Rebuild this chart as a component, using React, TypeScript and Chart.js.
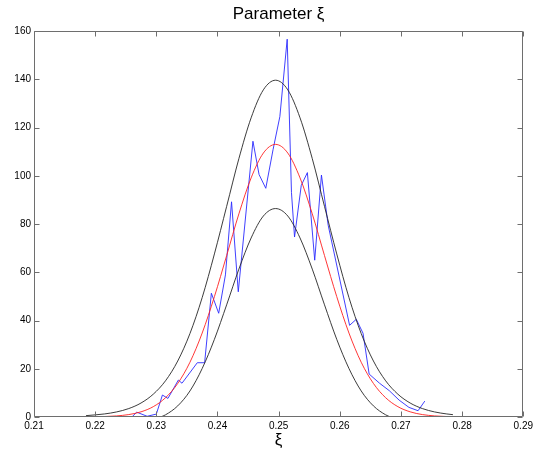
import React, { useEffect, useRef } from "react";
import { Chart, registerables } from "chart.js";

Chart.register(...registerables);

// ---- data ----
const xTicks = [0.21, 0.22, 0.23, 0.24, 0.25, 0.26, 0.27, 0.28, 0.29];
const xTickLabels = ["0.21", "0.22", "0.23", "0.24", "0.25", "0.26", "0.27", "0.28", "0.29"];
const yTicks = [0, 20, 40, 60, 80, 100, 120, 140, 160];
const yTickLabels = ["0", "20", "40", "60", "80", "100", "120", "140", "160"];

// empirical (blue) trace
const blueX = [0.2185, 0.226, 0.2268, 0.2285, 0.23, 0.231, 0.2319, 0.2336, 0.2342, 0.2367, 0.2379, 0.239, 0.2402, 0.2413, 0.2423, 0.2434, 0.2458, 0.2468, 0.2479, 0.2491, 0.2502, 0.2514, 0.2521, 0.2526, 0.2537, 0.2547, 0.2559, 0.257, 0.2581, 0.2616, 0.2627, 0.2638, 0.2648, 0.2665, 0.2681, 0.2697, 0.2713, 0.2728, 0.2739];
const blueY = [0, 0, 2, 0.3, 1.2, 9.1, 7.7, 15.3, 14.0, 22.5, 22.5, 51.3, 43, 58.9, 89.2, 51.9, 114.3, 100.5, 94.8, 111, 124.5, 156.6, 93, 74.6, 96, 101.3, 65, 100.3, 79.5, 38, 40.5, 34.7, 17.8, 14, 10.9, 7.0, 4.0, 2.6, 6.6];

// fitted curve (red) and upper envelope (black)
const curveX = [0.2185, 0.2215, 0.2235, 0.2255, 0.2275, 0.2295, 0.2315, 0.2335, 0.2355, 0.2375, 0.2395, 0.2415, 0.2435, 0.2455, 0.2475, 0.2495, 0.2515, 0.2535, 0.2555, 0.2575, 0.2595, 0.2615, 0.2635, 0.2655, 0.2675, 0.2695, 0.2715, 0.2735, 0.2755, 0.2775, 0.2785];
const redY = [0.04, 0.19, 0.45, 1.01, 2.15, 4.28, 7.98, 13.9, 22.7, 34.8, 49.9, 66.9, 84.2, 99.1, 109.4, 113, 109.4, 99.1, 84.2, 66.9, 49.9, 34.8, 22.7, 13.9, 7.98, 4.28, 2.15, 1.01, 0.45, 0.19, 0.12];
const upperY = [0.56, 1.26, 2.1, 3.5, 5.8, 9.45, 15.0, 23.2, 34.6, 49.5, 67.6, 87.3, 107.1, 124.0, 135.6, 139.6, 135.6, 124.0, 107.1, 87.3, 67.6, 49.5, 34.6, 23.2, 15.0, 9.45, 5.8, 3.5, 2.1, 1.26, 0.97];

// lower envelope (black)
const lowerX = [0.2307, 0.2315, 0.2335, 0.2355, 0.2375, 0.2395, 0.2415, 0.2435, 0.2455, 0.2475, 0.2495, 0.2515, 0.2535, 0.2555, 0.2575, 0.2595, 0.2615, 0.2635, 0.2655, 0.2675, 0.2683];
const lowerY = [0, 0.9, 4.6, 10.8, 20.1, 32.2, 46.5, 61.3, 74.2, 83.3, 86.4, 83.3, 74.2, 61.3, 46.5, 32.2, 20.1, 10.8, 4.6, 0.9, 0];

const FONT = "'Liberation Sans', Arial, Helvetica, sans-serif";

const pts = (xs: number[], ys: number[]) => xs.map((x, i) => ({ x, y: ys[i] }));

const framePlugin = {
  id: "matlabFrame",
  afterDraw(chart: any) {
    const { ctx, chartArea } = chart;
    const { left, right, top, bottom } = chartArea;
    const xs = chart.scales.x;
    const ys = chart.scales.y;
    const L = Math.round(left) + 0.5;
    const R = Math.round(right) - 0.5;
    const T = Math.round(top) + 0.5;
    const B = Math.round(bottom) - 0.5;
    const tl = 5;
    ctx.save();
    ctx.strokeStyle = "#6e6e6e";
    ctx.lineWidth = 1;
    ctx.beginPath();
    ctx.rect(L, T, R - L, B - T);
    for (const v of xTicks) {
      const p = Math.round(xs.getPixelForValue(v)) + 0.5;
      ctx.moveTo(p, B);
      ctx.lineTo(p, B - tl);
      ctx.moveTo(p, T);
      ctx.lineTo(p, T + tl);
    }
    for (const v of yTicks) {
      const p = Math.round(ys.getPixelForValue(v)) + 0.5;
      ctx.moveTo(L, p);
      ctx.lineTo(L + tl, p);
      ctx.moveTo(R, p);
      ctx.lineTo(R - tl, p);
    }
    ctx.stroke();
    ctx.restore();
  },
};

export default function App() {
  const ref = useRef<HTMLCanvasElement | null>(null);
  useEffect(() => {
    document.body.style.margin = "0";
    const canvas = ref.current;
    if (!canvas) return;
    const lineBase = {
      pointRadius: 0,
      pointHoverRadius: 0,
      borderWidth: 0.9,
      fill: false,
    };
    const chart = new Chart(canvas, {
      type: "line",
      data: {
        datasets: [
          { ...lineBase, label: "upper", data: pts(curveX, upperY), borderColor: "#262626", cubicInterpolationMode: "monotone" },
          { ...lineBase, label: "lower", data: pts(lowerX, lowerY), borderColor: "#262626", cubicInterpolationMode: "monotone" },
          { ...lineBase, label: "fit", data: pts(curveX, redY), borderColor: "#ff2020", cubicInterpolationMode: "monotone" },
          { ...lineBase, label: "data", data: pts(blueX, blueY), borderColor: "#2a2aff", tension: 0 },
        ],
      },
      options: {
        responsive: false,
        animation: false,
        devicePixelRatio: 1,
        layout: { padding: { left: 0, right: 10, top: 0, bottom: 0 } },
        plugins: {
          legend: { display: false },
          tooltip: { enabled: false },
          title: {
            display: true,
            text: "Parameter ξ",
            color: "#000",
            fullSize: false,
            font: { family: FONT, size: 17, weight: "normal" },
            padding: { top: 4, bottom: 6.6 },
          },
        },
        scales: {
          x: {
            type: "linear",
            min: 0.21,
            max: 0.29,
            grid: { display: false, drawTicks: false },
            border: { display: false },
            afterBuildTicks: (s: any) => {
              s.ticks = xTicks.map((v) => ({ value: v }));
            },
            afterFit: (s: any) => {
              s.height = 38;
            },
            ticks: {
              color: "#000",
              padding: 3,
              maxRotation: 0,
              autoSkip: false,
              font: { family: FONT, size: 10 },
              callback: (_v: any, i: number) => xTickLabels[i],
            },
            title: {
              display: true,
              text: "ξ",
              color: "#000",
              font: { family: FONT, size: 17 },
              padding: { top: 0, bottom: 4 },
            },
          },
          y: {
            type: "linear",
            min: 0,
            max: 160,
            grid: { display: false, drawTicks: false },
            border: { display: false },
            afterBuildTicks: (s: any) => {
              s.ticks = yTicks.map((v) => ({ value: v }));
            },
            afterFit: (s: any) => {
              s.width = 34;
            },
            ticks: {
              color: "#000",
              padding: 3,
              autoSkip: false,
              font: { family: FONT, size: 10 },
              callback: (_v: any, i: number) => yTickLabels[i],
            },
          },
        },
      },
      plugins: [framePlugin],
    } as any);
    return () => chart.destroy();
  }, []);
  return <canvas ref={ref} width={536} height={455} style={{ display: "block", width: 536, height: 455 }} />;
}
